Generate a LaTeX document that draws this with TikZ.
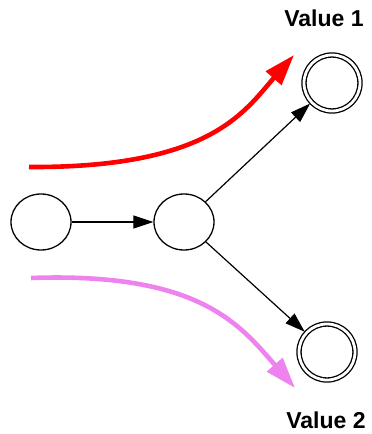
\documentclass[tikz,border=0pt]{standalone}
\usepackage{fontspec}
\setmainfont{Liberation Sans}
\usetikzlibrary{arrows.meta,shapes.geometric}
\definecolor{flowred}{RGB}{255,0,0}
\definecolor{flowviolet}{RGB}{238,130,238}
\begin{document}
\begin{tikzpicture}[x=1pt,y=-1pt,
  state/.style={draw,ellipse,line width=1.3pt,minimum width=60pt,minimum height=56pt,inner sep=0pt},
  final/.style={draw,circle,double,line width=1.3pt,double distance=2.8pt,minimum size=56pt,inner sep=0pt,outer sep=2pt},
  trans/.style={line width=1.2pt,-{Triangle[length=20pt,width=13pt]}},
  flow/.style={line width=4.6pt,-{Triangle[length=31pt,width=20pt]}},
  lbl/.style={font=\bfseries\fontsize{23}{27}\selectfont}]
\useasboundingbox (0,0) rectangle (372,434);
\node[state] (A) at (41,222) {};
\node[state] (B) at (184,222) {};
\node[final] (V1) at (332,83) {};
\node[final] (V2) at (327,352) {};
\node[lbl] (L1) at (324,18) {Value 1};
\node[lbl] (L2) at (326,420) {Value 2};
\draw[trans] (A) -- (B);
\draw[trans] (B) -- (V1);
\draw[trans] (B) -- (V2);
\coordinate (r0) at (29,167);
\coordinate (r1) at (294,55);
\coordinate (v0) at (31,278);
\coordinate (v1) at (295,388);
\draw[flow,flowred] (r0) .. controls (210,168) and (244,112) .. (r1);
\draw[flow,flowviolet] (v0) .. controls (200,272) and (240,325) .. (v1);
\end{tikzpicture}
\end{document}
